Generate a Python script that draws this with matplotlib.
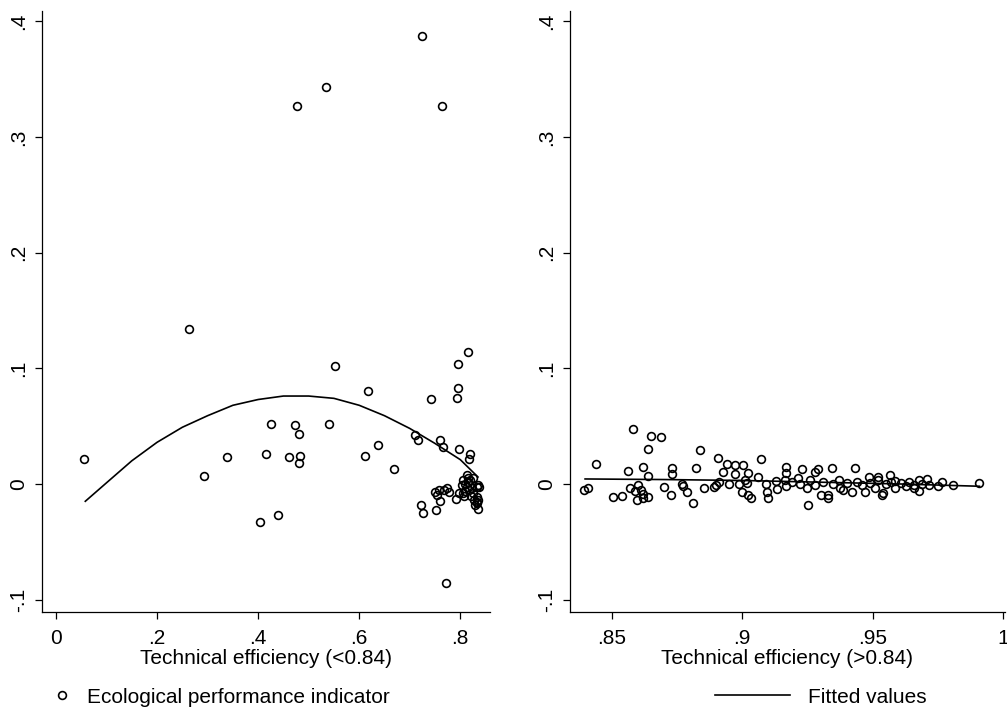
import numpy as np
import matplotlib
matplotlib.use("Agg")
import matplotlib.pyplot as plt
from matplotlib.lines import Line2D

plt.rcParams['font.family'] = ['Liberation Sans', 'DejaVu Sans']

# left panel: technical efficiency < 0.84
low_x = [0.477, 0.535, 0.725, 0.764, 0.264, 0.055, 0.292, 0.339, 0.415, 0.426,
         0.403, 0.440, 0.473, 0.480, 0.461, 0.482, 0.480, 0.552, 0.541, 0.618,
         0.611, 0.637, 0.669, 0.711, 0.717, 0.743, 0.796, 0.816, 0.795, 0.794,
         0.759, 0.766, 0.797, 0.820, 0.818, 0.723, 0.726, 0.751, 0.759, 0.772,
         0.791, 0.807, 0.836, 0.838,
         0.754, 0.750, 0.757, 0.767, 0.774, 0.777, 0.797, 0.813, 0.806, 0.803,
         0.820, 0.826, 0.813, 0.823, 0.833, 0.836, 0.806, 0.826, 0.833, 0.836,
         0.834, 0.833, 0.810, 0.816, 0.818, 0.822, 0.828, 0.830, 0.815, 0.810]
low_y = [0.327, 0.343, 0.387, 0.327, 0.134, 0.0216, 0.0072, 0.0236, 0.026, 0.052,
         -0.033, -0.027, 0.051, 0.0435, 0.0234, 0.0245, 0.0184, 0.102, 0.052, 0.080,
         0.0245, 0.034, 0.013, 0.042, 0.038, 0.0735, 0.1035, 0.114, 0.0833, 0.0744,
         0.038, 0.032, 0.030, 0.026, 0.0216, -0.0185, -0.0254, -0.0225, -0.015, -0.086,
         -0.013, -0.010, -0.022, -0.0023,
         -0.0095, -0.0066, -0.0052, -0.0052, -0.0037, -0.0066, -0.008, 0.0078, 0.0035, -0.0009,
         0.0035, 0.0049, -0.0023, -0.0037, -0.0023, -0.0009, -0.008, -0.008, -0.011, -0.0138,
         -0.0167, -0.0153, 0.000, 0.002, -0.005, -0.010, -0.014, -0.018, 0.005, -0.006]

# quadratic fit line
low_fit_x = [0.058, 0.10, 0.15, 0.20, 0.25, 0.30, 0.35, 0.40, 0.45, 0.50,
             0.55, 0.60, 0.65, 0.70, 0.75, 0.80, 0.835]
low_fit_y = [-0.015, 0.001, 0.020, 0.036, 0.049, 0.059, 0.068, 0.073, 0.076, 0.076,
             0.074, 0.068, 0.059, 0.048, 0.035, 0.021, 0.006]

# right panel: technical efficiency > 0.84
high_x = [0.858, 0.865, 0.869, 0.864, 0.844, 0.856, 0.862, 0.864, 0.873, 0.873,
          0.8394, 0.8409, 0.8505, 0.854, 0.857, 0.860, 0.861, 0.862, 0.859, 0.8597,
          0.862, 0.864, 0.870, 0.8726, 0.8767, 0.8774, 0.8787, 0.8838, 0.8822, 0.8908,
          0.894, 0.8972, 0.9001, 0.9072, 0.8925, 0.8972, 0.9023, 0.9061, 0.9168, 0.9168,
          0.8812, 0.8853, 0.889, 0.890, 0.891, 0.895, 0.8988, 0.901, 0.9017, 0.900,
          0.9023, 0.9032, 0.9091, 0.9096, 0.910, 0.9129, 0.9134, 0.9164, 0.9168, 0.923,
          0.9291, 0.9343, 0.9432, 0.9281, 0.9215, 0.9486, 0.9522, 0.9566, 0.925, 0.9304,
          0.933, 0.9328, 0.9253, 0.9375, 0.9387, 0.942, 0.947, 0.9535, 0.954, 0.9509,
          0.919, 0.922, 0.926, 0.928, 0.931, 0.935, 0.937, 0.940, 0.944, 0.946,
          0.949, 0.952, 0.955, 0.957, 0.9586, 0.9586, 0.961, 0.963, 0.964, 0.966,
          0.968, 0.969, 0.9659, 0.9679, 0.9707, 0.9717, 0.9752, 0.9765, 0.981, 0.991]
high_y = [0.0476, 0.0418, 0.0407, 0.0305, 0.0176, 0.0112, 0.0144, 0.0069, 0.0136, 0.0084,
          -0.0049, -0.0032, -0.0112, -0.010, -0.0032, -0.001, -0.005, -0.009, -0.006, -0.014,
          -0.012, -0.011, -0.003, -0.0098, 0.000, -0.0015, -0.0072, 0.0294, 0.0141, 0.0222,
          0.0173, 0.0167, 0.0167, 0.0219, 0.0101, 0.0087, 0.0092, 0.0063, 0.015, 0.0092,
          -0.0167, -0.0032, -0.0023, -0.0009, 0.002, 0.000, 0.000, 0.0035, 0.0006, -0.0072,
          -0.0095, -0.0118, 0.000, -0.0072, -0.0118, 0.0026, -0.0043, 0.0035, -0.0015, 0.013,
          0.013, 0.0136, 0.0136, 0.0101, 0.0055, 0.0063, 0.0063, 0.0078, -0.0032, -0.0095,
          -0.0095, -0.0124, -0.0182, -0.0037, -0.0052, -0.0066, -0.0072, -0.0095, -0.008, -0.0037,
          0.002, 0.000, 0.003, -0.001, 0.002, 0.000, 0.003, 0.001, 0.002, -0.001,
          0.001, 0.003, 0.000, 0.002, 0.0026, -0.0037, 0.001, -0.002, 0.002, -0.001,
          0.003, 0.000, -0.0037, -0.006, 0.0043, -0.0009, -0.0015, 0.002, -0.0009, 0.0006]

high_fit_x = [0.8397, 0.87, 0.90, 0.93, 0.96, 0.991]
high_fit_y = [0.0043, 0.0038, 0.003, 0.0015, 0.000, -0.002]

y_ticks = [-0.1, 0, 0.1, 0.2, 0.3, 0.4]
y_labels = ['-.1', '0', '.1', '.2', '.3', '.4']
low_ticks = [0, 0.2, 0.4, 0.6, 0.8]
low_labels = ['0', '.2', '.4', '.6', '.8']
high_ticks = [0.85, 0.9, 0.95, 1.0]
high_labels = ['.85', '.9', '.95', '1']

fig = plt.figure(figsize=(10.07, 7.13), dpi=100)
ax1 = fig.add_axes([0.0417, 0.1417, 0.445, 0.8430])
ax2 = fig.add_axes([0.566, 0.1417, 0.432, 0.8430])

fs = 15
mk = dict(marker='o', ms=5.6, mfc='none', mec='black', mew=1.2, ls='none')

def style(ax, xt, xl, xlab, xlim):
    ax.set_ylim(-0.1107, 0.409)
    ax.set_xlim(*xlim)
    for s in ['top', 'right']:
        ax.spines[s].set_visible(False)
    for s in ['left', 'bottom']:
        ax.spines[s].set_linewidth(0.9)
    ax.set_yticks(y_ticks)
    ax.set_yticklabels(y_labels, rotation=90, va='center', fontsize=fs)
    ax.set_xticks(xt)
    ax.set_xticklabels(xl, fontsize=fs)
    ax.tick_params(length=5, width=0.9, pad=7)
    ax.tick_params(axis='y', pad=5)
    ax.set_xlabel(xlab, fontsize=fs, labelpad=1)

ax1.plot(low_x, low_y, **mk)
ax1.plot(low_fit_x, low_fit_y, color='black', lw=1.2)
style(ax1, low_ticks, low_labels, 'Technical efficiency (<0.84)', (-0.0277, 0.859))

ax2.plot(high_x, high_y, **mk)
ax2.plot(high_fit_x, high_fit_y, color='black', lw=1.2)
style(ax2, high_ticks, high_labels, 'Technical efficiency (>0.84)', (0.8339, 1.0008))

h1 = Line2D([], [], **mk)
h2 = Line2D([], [], color='black', lw=1.2)
fig.legend(handles=[h1], labels=['Ecological performance indicator'], loc='center left',
           bbox_to_anchor=(0.0516, 0.0224), frameon=False, fontsize=fs,
           handlelength=1.0, handletextpad=0.7, borderpad=0, borderaxespad=0)
fig.legend(handles=[h2], labels=['Fitted values'], loc='center left',
           bbox_to_anchor=(0.710, 0.0224), frameon=False, fontsize=fs,
           handlelength=3.6, handletextpad=0.85, borderpad=0, borderaxespad=0)

fig.savefig('out.png', dpi=100)
